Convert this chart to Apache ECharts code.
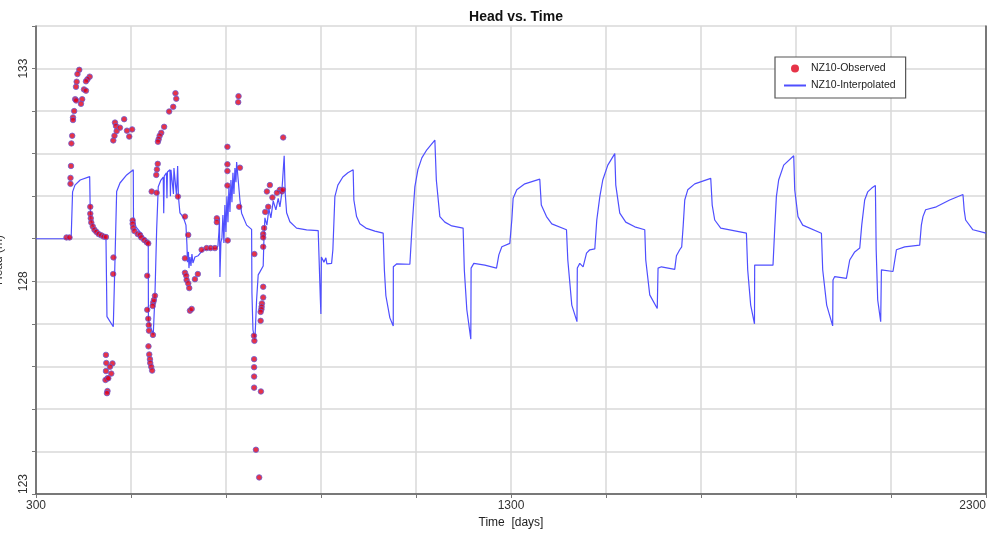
<!DOCTYPE html>
<html>
<head>
<meta charset="utf-8">
<script src="https://cdn.jsdelivr.net/npm/echarts@6/dist/echarts.min.js"></script>
<style>
html,body{margin:0;padding:0;background:#fff;}
#c{width:987px;height:535px;}
</style>
</head>
<body>
<div id="c"></div>
<script>
// ---- Interpolated head (line) ----
const lineTime = [
  300,374,377,382,393,413,414,415.7,422.7,433.2,
  447.3,449.4,462.7,466.3,469.8,476.8,490.9,504.8,505.2,510.4,
  521,531.5,536.3,536.7,546.8,550.4,554,557.4,563,567.9,
  568.9,570,574.6,575.7,576.7,582,583,584.1,588.3,589.4,
  590.4,594.6,595.7,598.2,599.9,603,610,615.7,617.8,618.8,
  620.9,622,624.1,626.2,628.3,630.4,634.6,641.5,651.4,666.2,
  680.3,683,685.1,686.2,687.2,689.3,691.4,693.5,695.6,697.7,
  699.8,702,704.1,706.2,708.3,710.4,712.5,714.6,716.7,718.8,
  720.9,722.4,725.7,729.3,732.9,743.4,753.9,754.6,756.7,760.9,
  764.4,767.8,771.4,778.3,779.8,781.9,786.1,790.3,794.5,799.4,
  805,809.9,813.5,817,819.2,822.5,824.6,827.6,834.5,848.6,
  869.7,894.1,897.7,898.7,899.8,900.8,906.1,910.3,912.4,916.6,922.3,
  925,929.2,935.5,946,956.6,967.7,969.2,974.9,981.8,994.5,1013.4,1030.9,
  1033.4,1036.6,1045,1052.1,1052.3,1059.7,1087.1,1091.3,1097.6,1103.9,1112.3,1122.8,1139.7,
  1142.8,1150.2,1160.7,1175.4,1199.2,1201.7,1207,1215.4,1216,1221.7,1244.9,1269.5,
  1274.4,1280.7,1297.5,1301.7,1304.5,1312.2,1329.1,1360.6,1363.8,1374.7,1385.9,1416.8,
  1419.6,1428,1438.9,1439.6,1444.8,1451.8,1459,1465.9,1476.4,1480.6,1487,1493.2,
  1503.8,1518.5,1520.6,1529,1541.6,1560.6,1581.6,1583.7,1592.1,1607.9,1609.6,1616.7,
  1644.7,1648.3,1655.2,1659.4,1662.6,1665.8,1672.1,1686.8,1720.5,1723.6,1728.9,1741.5,
  1795.6,1798.3,1804.6,1812.6,1813,1851.6,1855.1,1858.7,1863.5,1874.1,1895.2,1897.3,
  1904.2,1914.1,1953.5,1956.2,1964.6,1977.2,1977.9,1981.5,2006.1,2013.1,2023.6,2034.2,
  2038.4,2044.6,2050.9,2059.4,2067.1,2068.8,2072,2078.3,2079.8,2104.2,2111.4,2128.8,
  2160.4,2163.9,2167.3,2172.9,2195.5,2223.5,2251.5,2254,2257.1,2272.5,2300
];
const lineHead = [
  129.0,129.0,130.1,130.26,130.38,130.46,129.78,129.44,129.21,129.09,
  129.03,127.17,126.93,128.5,130.11,130.31,130.5,130.62,129.52,129.28,
  129.13,128.97,128.89,127.09,126.74,127.66,129.21,130.22,130.38,130.45,
  129.6,130.47,130.55,129.95,130.57,130.62,130.0,130.62,130.66,130.05,
  130.66,130.69,130.03,130.71,129.98,129.61,129.51,129.32,128.85,128.45,
  128.69,128.31,128.57,128.36,128.64,128.43,128.57,128.6,128.74,128.76,
  128.78,128.83,129.16,129.49,128.1,128.92,129.02,129.56,128.9,129.79,
  129.16,130.0,129.39,130.24,129.63,130.38,129.86,130.55,130.05,130.66,
  130.33,130.8,130.38,129.91,129.6,129.32,129.22,127.73,126.86,126.62,
  127.56,128.15,128.22,128.36,128.97,129.49,129.32,129.7,129.49,129.89,
  129.68,129.95,129.75,130.03,130.38,130.95,130.08,129.61,129.4,129.25,
  129.21,129.19,129.18,127.56,127.23,128.57,128.45,128.55,128.41,128.45,128.42,
  128.74,129.99,130.26,130.45,130.55,130.62,129.91,129.52,129.35,129.25,129.18,129.13,
  128.27,127.66,127.14,126.95,128.34,128.41,128.4,129.21,130.22,130.62,130.9,131.09,131.32,
  130.38,129.52,129.39,129.3,129.25,128.27,127.33,126.64,128.31,128.42,128.38,128.31,
  128.62,128.81,128.89,129.44,129.95,130.15,130.29,130.4,129.79,129.52,129.35,129.21,
  128.5,127.44,127.05,128.31,128.42,128.34,128.66,128.74,128.76,129.44,129.99,130.38,
  130.73,131.0,130.26,129.6,129.39,129.28,129.21,128.5,127.68,127.36,128.31,128.34,
  128.28,128.6,128.74,128.81,129.32,129.91,130.15,130.29,130.42,129.79,129.44,129.25,
  129.13,128.27,127.44,127.0,128.38,128.38,129.21,129.99,130.38,130.73,130.95,130.15,
  129.52,129.32,129.13,128.27,127.44,126.95,128.03,128.11,128.07,128.5,128.69,128.78,
  129.32,129.91,130.1,130.19,130.25,128.74,127.56,127.05,128.27,128.23,128.74,128.81,
  128.85,129.32,129.52,129.68,129.75,129.91,130.04,129.68,129.44,129.21,129.13
];

// ---- Observed head (points) ----
const obsTime = [
  391.1,387.3,385.6,384.2,413,408.4,405.2,401,405.2,382.5,384.5,397.2,394.7,380.4,377.9,377.9,376.2,374.5,373.7,372.6,372.6,
  364.2,370.5,
  414.3,414.3,415.3,416.4,419.5,423.1,427.3,431.9,437.4,442.5,447.3,
  463.1,462.5,
  466.3,468.4,469.8,462.7,465.2,485.6,491.5,502.4,496.3,476.8,
  503.5,503.5,504.8,507.3,514.2,518.9,521.6,527.9,533,536.3,
  447.3,448,447.3,450.5,446.3,461,458.5,452.2,450.5,449.4,455.7,
  534.2,534.2,536.3,537.4,537.8,546.2,536.8,538.4,539.9,540.5,542.6,544.5,546.8,548.3,550.4,545.6,
  593.6,595.3,588.9,580.3,569.8,563.7,560.3,558.2,556.7,556.3,554.6,553.2,543.5,554,598.8,613.6,620.5,
  613.6,613.6,616.3,617.1,620.5,622.6,624.1,627.7,634.6,640.7,
  648.7,659.2,667.6,676.7,680.7,680.7,703,703,703,703,703.6,726.4,725.7,729.3,727.8,759.8,
  820.4,792.4,786.1,813.5,807.2,817.7,819.8,797.7,788.9,782.6,780.2,778.3,778.3,778.3,
  778.3,778.3,775.6,775,774.5,772.9,772.9,758.8,759.8,759.2,759.2,759.2,759.2,773.5,763,769.9
];
const obsHead = [
  132.97,132.87,132.69,132.57,132.81,132.75,132.7,132.51,132.48,132.28,132.25,132.28,132.17,132.0,131.85,131.79,131.42,131.24,130.71,130.43,130.29,
  129.03,129.03,
  129.75,129.59,129.48,129.38,129.29,129.21,129.16,129.11,129.08,129.05,129.04,
  128.56,128.17,
  131.73,131.65,131.53,131.31,131.42,131.81,131.54,131.57,131.4,131.61,
  129.43,129.35,129.26,129.18,129.11,129.09,129.03,128.97,128.92,128.89,
  126.27,126.08,125.89,125.72,125.68,126.07,125.83,125.72,125.42,125.37,125.99,
  128.13,127.33,127.12,126.97,126.84,126.74,126.47,126.28,126.17,126.08,125.99,125.9,127.5,127.56,127.66,127.42,
  132.42,132.29,132.1,131.99,131.63,131.49,131.42,131.34,131.28,130.76,130.63,130.5,130.11,130.08,129.99,129.52,129.09,
  128.54,128.2,128.13,128.03,127.95,127.84,127.31,127.35,128.05,128.17,
  128.74,128.78,128.78,128.78,129.48,129.39,131.16,130.75,130.59,130.25,128.96,132.35,132.21,130.67,129.75,128.64,
  131.38,130.26,130.11,130.15,130.08,130.11,130.15,129.97,129.75,129.63,129.25,129.11,129.03,128.81,
  127.87,127.62,127.48,127.4,127.34,127.28,127.07,126.72,126.6,126.17,125.98,125.76,125.5,125.41,124.04,123.39
];

// ---- Axis tick labels ----
const xTickLabels = [300, 1300, 2300];
const yTickLabels = [123, 128, 133];

const FONT = '"Liberation Sans", Arial, sans-serif';
const linePairs = lineTime.map((t, i) => [t, lineHead[i]]);
const obsPairs = obsTime.map((t, i) => [t, obsHead[i]]);

const chart = echarts.init(document.getElementById('c'), null, {renderer: 'canvas'});
chart.setOption({
  backgroundColor: '#ffffff',
  animation: false,
  textStyle: {fontFamily: FONT},
  title: {
    text: 'Head vs. Time',
    left: 511,
    top: 5,
    textAlign: 'center',
    textStyle: {fontSize: 14, fontWeight: 'bold', color: '#111', fontFamily: FONT}
  },
  legend: {
    orient: 'vertical',
    left: 775,
    top: 57,
    padding: [5, 10, 6, 8],
    itemGap: 4,
    itemWidth: 22,
    itemHeight: 8,
    backgroundColor: '#ffffff',
    borderColor: '#555',
    borderWidth: 1.2,
    textStyle: {fontSize: 10.5, color: '#222', lineHeight: 13, fontFamily: FONT},
    data: [
      {name: 'NZ10-Observed', itemStyle: {borderWidth: 0}},
      {name: 'NZ10-Interpolated', itemStyle: {color: 'rgba(0,0,0,0)', borderWidth: 0, opacity: 0}}
    ]
  },
  grid: {left: 36, right: 1, top: 26, bottom: 41, containLabel: false, outerBoundsMode: 'none'},
  xAxis: {
    type: 'value',
    min: 300,
    max: 2300,
    interval: 200,
    name: 'Time  [days]',
    nameLocation: 'middle',
    nameGap: 21,
    nameTextStyle: {fontSize: 12, color: '#222', fontFamily: FONT},
    axisLine: {show: true, lineStyle: {color: '#555', width: 1.5}},
    axisTick: {show: true, length: 4, lineStyle: {color: '#777'}},
    axisLabel: {
      color: '#333', fontSize: 12, margin: 6, fontFamily: FONT,
      alignMaxLabel: 'right',
      formatter: v => xTickLabels.includes(v) ? String(v) : ''
    },
    splitLine: {show: true, lineStyle: {color: '#d9d9d9', width: 1.5}}
  },
  yAxis: [{
    type: 'value',
    min: 123,
    max: 134,
    interval: 1,
    name: 'Head (m)',
    nameLocation: 'middle',
    nameGap: 31,
    nameTextStyle: {fontSize: 12, color: '#333', fontFamily: FONT},
    axisLine: {show: true, lineStyle: {color: '#555', width: 1.5}},
    axisTick: {show: true, length: 4, lineStyle: {color: '#777'}},
    axisLabel: {
      color: '#333', fontSize: 12, margin: 6, rotate: 90, fontFamily: FONT,
      alignMinLabel: 'left',
      formatter: v => yTickLabels.includes(v) ? String(v) : ''
    },
    splitLine: {show: true, lineStyle: {color: '#d9d9d9', width: 1.5}}
  }, {
    type: 'value',
    position: 'right',
    min: 123,
    max: 134,
    interval: 1,
    axisLine: {show: true, lineStyle: {color: '#555', width: 1.5}},
    axisTick: {show: false},
    axisLabel: {show: false},
    splitLine: {show: false}
  }],
  series: [
    {
      name: 'NZ10-Observed',
      type: 'scatter',
      data: obsPairs,
      symbol: 'circle',
      symbolSize: 5.5,
      itemStyle: {color: '#e0001a', borderColor: '#6b5fd6', borderWidth: 1},
      z: 3
    },
    {
      name: 'NZ10-Interpolated',
      type: 'line',
      data: linePairs,
      symbol: 'none',
      showSymbol: false,
      lineStyle: {color: '#4f4fff', width: 1.2},
      itemStyle: {color: '#4f4fff'},
      z: 2
    }
  ]
});
</script>
</body>
</html>
